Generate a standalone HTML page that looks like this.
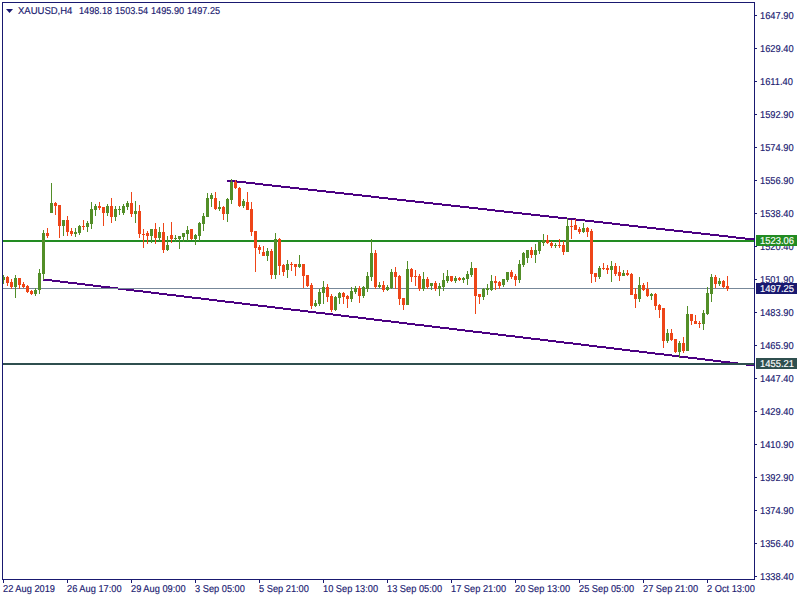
<!DOCTYPE html>
<html><head><meta charset="utf-8"><title>XAUUSD,H4</title>
<style>
html,body{margin:0;padding:0;background:#fff;}
body{width:800px;height:600px;position:relative;overflow:hidden;font-family:"Liberation Sans",sans-serif;font-size:10px;text-rendering:geometricPrecision;-webkit-text-stroke:0.15px;color:#191970;line-height:10px;}
.a{position:absolute;}
.t{position:absolute;white-space:nowrap;height:10px;line-height:10px;transform:scaleX(0.93);transform-origin:0 0;}
.tk{position:absolute;background:#191970;z-index:2;}
.lb{position:absolute;left:756px;width:41px;height:11px;color:#fff;line-height:10px;white-space:nowrap;}
.lb span{position:absolute;left:4px;top:2px;transform:scaleX(0.94);transform-origin:0 0;}
svg{position:absolute;left:0;top:0;}
</style></head><body>
<div class="tk" style="left:2px;top:2px;width:753px;height:1px"></div>
<div class="tk" style="left:2px;top:2px;width:1px;height:578px"></div>
<div class="tk" style="left:754px;top:2px;width:1px;height:578px"></div>
<div class="tk" style="left:2px;top:579px;width:753px;height:1px"></div>
<div class="tk" style="left:755px;top:15px;width:2px;height:1px"></div>
<div class="t" style="left:760px;top:12px">1647.90</div>
<div class="tk" style="left:755px;top:48px;width:2px;height:1px"></div>
<div class="t" style="left:760px;top:45px">1629.40</div>
<div class="tk" style="left:755px;top:81px;width:2px;height:1px"></div>
<div class="t" style="left:760px;top:78px">1611.40</div>
<div class="tk" style="left:755px;top:114px;width:2px;height:1px"></div>
<div class="t" style="left:760px;top:111px">1592.90</div>
<div class="tk" style="left:755px;top:147px;width:2px;height:1px"></div>
<div class="t" style="left:760px;top:144px">1574.90</div>
<div class="tk" style="left:755px;top:180px;width:2px;height:1px"></div>
<div class="t" style="left:760px;top:177px">1556.90</div>
<div class="tk" style="left:755px;top:213px;width:2px;height:1px"></div>
<div class="t" style="left:760px;top:210px">1538.40</div>
<div class="tk" style="left:755px;top:246px;width:2px;height:1px"></div>
<div class="t" style="left:760px;top:243px">1520.40</div>
<div class="tk" style="left:755px;top:279px;width:2px;height:1px"></div>
<div class="t" style="left:760px;top:276px">1501.90</div>
<div class="tk" style="left:755px;top:312px;width:2px;height:1px"></div>
<div class="t" style="left:760px;top:309px">1483.90</div>
<div class="tk" style="left:755px;top:345px;width:2px;height:1px"></div>
<div class="t" style="left:760px;top:342px">1465.90</div>
<div class="tk" style="left:755px;top:378px;width:2px;height:1px"></div>
<div class="t" style="left:760px;top:375px">1447.40</div>
<div class="tk" style="left:755px;top:411px;width:2px;height:1px"></div>
<div class="t" style="left:760px;top:408px">1429.40</div>
<div class="tk" style="left:755px;top:444px;width:2px;height:1px"></div>
<div class="t" style="left:760px;top:441px">1410.90</div>
<div class="tk" style="left:755px;top:477px;width:2px;height:1px"></div>
<div class="t" style="left:760px;top:474px">1392.90</div>
<div class="tk" style="left:755px;top:510px;width:2px;height:1px"></div>
<div class="t" style="left:760px;top:507px">1374.90</div>
<div class="tk" style="left:755px;top:543px;width:2px;height:1px"></div>
<div class="t" style="left:760px;top:540px">1356.40</div>
<div class="tk" style="left:755px;top:576px;width:2px;height:1px"></div>
<div class="t" style="left:760px;top:573px">1338.40</div>
<div class="tk" style="left:3px;top:580px;width:1px;height:3px"></div>
<div class="t" style="left:2.5px;top:585px;transform:scaleX(0.925)">22 Aug 2019</div>
<div class="tk" style="left:67px;top:580px;width:1px;height:3px"></div>
<div class="t" style="left:66.5px;top:585px;transform:scaleX(0.925)">26 Aug 17:00</div>
<div class="tk" style="left:131px;top:580px;width:1px;height:3px"></div>
<div class="t" style="left:130.5px;top:585px;transform:scaleX(0.925)">29 Aug 09:00</div>
<div class="tk" style="left:195px;top:580px;width:1px;height:3px"></div>
<div class="t" style="left:194.5px;top:585px;transform:scaleX(0.925)">3 Sep 05:00</div>
<div class="tk" style="left:259px;top:580px;width:1px;height:3px"></div>
<div class="t" style="left:258.5px;top:585px;transform:scaleX(0.925)">5 Sep 21:00</div>
<div class="tk" style="left:323px;top:580px;width:1px;height:3px"></div>
<div class="t" style="left:322.5px;top:585px;transform:scaleX(0.925)">10 Sep 13:00</div>
<div class="tk" style="left:387px;top:580px;width:1px;height:3px"></div>
<div class="t" style="left:386.5px;top:585px;transform:scaleX(0.925)">13 Sep 05:00</div>
<div class="tk" style="left:451px;top:580px;width:1px;height:3px"></div>
<div class="t" style="left:450.5px;top:585px;transform:scaleX(0.925)">17 Sep 21:00</div>
<div class="tk" style="left:515px;top:580px;width:1px;height:3px"></div>
<div class="t" style="left:514.5px;top:585px;transform:scaleX(0.925)">20 Sep 13:00</div>
<div class="tk" style="left:579px;top:580px;width:1px;height:3px"></div>
<div class="t" style="left:578.5px;top:585px;transform:scaleX(0.925)">25 Sep 05:00</div>
<div class="tk" style="left:643px;top:580px;width:1px;height:3px"></div>
<div class="t" style="left:642.5px;top:585px;transform:scaleX(0.925)">27 Sep 21:00</div>
<div class="tk" style="left:707px;top:580px;width:1px;height:3px"></div>
<div class="t" style="left:706.5px;top:585px;transform:scaleX(0.925)">2 Oct 13:00</div>
<svg width="20" height="20" style="left:0;top:0"><path d="M6 9h7l-3.5 4z" fill="#191970"/></svg>
<div class="t" style="left:18px;top:7px;transform:scaleX(0.95)">XAUUSD,H4</div>
<div class="t" style="left:78.5px;top:7px;transform:scaleX(0.915)">1498.18</div>
<div class="t" style="left:115px;top:7px;transform:scaleX(0.915)">1503.54</div>
<div class="t" style="left:150.5px;top:7px;transform:scaleX(0.915)">1495.90</div>
<div class="t" style="left:186.5px;top:7px;transform:scaleX(0.915)">1497.25</div>
<svg width="800" height="600" viewBox="0 0 800 600" shape-rendering="crispEdges">
<path fill="#4B0082" d="M227 180h10v2h-10zM237 181h9v2h-9zM246 182h9v2h-9zM255 183h8v2h-8zM263 184h9v2h-9zM272 185h9v2h-9zM281 186h9v2h-9zM290 187h9v2h-9zM299 188h9v2h-9zM308 189h9v2h-9zM317 190h9v2h-9zM326 191h9v2h-9zM335 192h9v2h-9zM344 193h9v2h-9zM353 194h9v2h-9zM362 195h9v2h-9zM371 196h8v2h-8zM379 197h9v2h-9zM388 198h9v2h-9zM397 199h9v2h-9zM406 200h9v2h-9zM415 201h9v2h-9zM424 202h9v2h-9zM433 203h9v2h-9zM442 204h9v2h-9zM451 205h9v2h-9zM460 206h9v2h-9zM469 207h9v2h-9zM478 208h9v2h-9zM487 209h8v2h-8zM495 210h9v2h-9zM504 211h9v2h-9zM513 212h9v2h-9zM522 213h9v2h-9zM531 214h9v2h-9zM540 215h9v2h-9zM549 216h9v2h-9zM558 217h9v2h-9zM567 218h9v2h-9zM576 219h9v2h-9zM585 220h9v2h-9zM594 221h9v2h-9zM603 222h9v2h-9zM612 223h8v2h-8zM620 224h9v2h-9zM629 225h9v2h-9zM638 226h9v2h-9zM647 227h9v2h-9zM656 228h9v2h-9zM665 229h9v2h-9zM674 230h9v2h-9zM683 231h9v2h-9zM692 232h9v2h-9zM701 233h9v2h-9zM710 234h9v2h-9zM719 235h9v2h-9zM728 236h8v2h-8zM736 237h9v2h-9zM745 238h9v2h-9zM43 279h9v2h-9zM52 280h8v2h-8zM60 281h8v2h-8zM68 282h9v2h-9zM77 283h8v2h-8zM85 284h8v2h-8zM93 285h8v2h-8zM101 286h9v2h-9zM110 287h8v2h-8zM118 288h8v2h-8zM126 289h8v2h-8zM134 290h9v2h-9zM143 291h8v2h-8zM151 292h8v2h-8zM159 293h8v2h-8zM167 294h9v2h-9zM176 295h8v2h-8zM184 296h8v2h-8zM192 297h9v2h-9zM201 298h8v2h-8zM209 299h8v2h-8zM217 300h8v2h-8zM225 301h9v2h-9zM234 302h8v2h-8zM242 303h8v2h-8zM250 304h8v2h-8zM258 305h9v2h-9zM267 306h8v2h-8zM275 307h8v2h-8zM283 308h8v2h-8zM291 309h9v2h-9zM300 310h8v2h-8zM308 311h8v2h-8zM316 312h9v2h-9zM325 313h8v2h-8zM333 314h8v2h-8zM341 315h8v2h-8zM349 316h9v2h-9zM358 317h8v2h-8zM366 318h8v2h-8zM374 319h8v2h-8zM382 320h9v2h-9zM391 321h8v2h-8zM399 322h8v2h-8zM407 323h8v2h-8zM415 324h9v2h-9zM424 325h8v2h-8zM432 326h8v2h-8zM440 327h9v2h-9zM449 328h8v2h-8zM457 329h8v2h-8zM465 330h8v2h-8zM473 331h9v2h-9zM482 332h8v2h-8zM490 333h8v2h-8zM498 334h8v2h-8zM506 335h9v2h-9zM515 336h8v2h-8zM523 337h8v2h-8zM531 338h9v2h-9zM540 339h8v2h-8zM548 340h8v2h-8zM556 341h8v2h-8zM564 342h9v2h-9zM573 343h8v2h-8zM581 344h8v2h-8zM589 345h8v2h-8zM597 346h9v2h-9zM606 347h8v2h-8zM614 348h8v2h-8zM622 349h8v2h-8zM630 350h9v2h-9zM639 351h8v2h-8zM647 352h8v2h-8zM655 353h9v2h-9zM664 354h8v2h-8zM672 355h8v2h-8zM680 356h8v2h-8zM688 357h9v2h-9zM697 358h8v2h-8zM705 359h8v2h-8zM713 360h8v2h-8zM721 361h9v2h-9zM730 362h8v2h-8zM738 363h8v2h-8zM746 364h8v2h-8z"/>
<rect x="3" y="240" width="751" height="2" fill="#228B22"/>
<rect x="3" y="363" width="751" height="2" fill="#2F4F4F"/>
<rect x="3" y="288" width="751" height="1" fill="#778899"/>
<path fill="#528E28" d="M3 275h1v9h-1zM2 277h3v3h-3zM15 275h1v23h-1zM14 278h3v9h-3zM35 288h1v8h-1zM34 290h3v4h-3zM39 269h1v25h-1zM38 273h3v17h-3zM43 230h1v50h-1zM42 233h3v41h-3zM51 183h1v30h-1zM50 203h3v10h-3zM63 220h1v16h-1zM62 220h3v6h-3zM75 228h1v9h-1zM74 232h3v2h-3zM79 225h1v10h-1zM78 226h3v7h-3zM87 221h1v11h-1zM86 223h3v4h-3zM91 202h1v27h-1zM90 209h3v15h-3zM95 204h1v12h-1zM94 206h3v4h-3zM107 204h1v12h-1zM106 206h3v7h-3zM115 206h1v15h-1zM114 209h3v8h-3zM119 206h1v9h-1zM118 209h3v1h-3zM123 204h1v11h-1zM122 206h3v7h-3zM127 201h1v9h-1zM126 203h3v4h-3zM135 201h1v22h-1zM134 211h3v3h-3zM151 229h1v14h-1zM150 229h3v7h-3zM159 227h1v14h-1zM158 232h3v6h-3zM167 236h1v15h-1zM166 245h3v5h-3zM175 235h1v7h-1zM174 238h3v1h-3zM179 236h1v13h-1zM178 236h3v3h-3zM183 233h1v9h-1zM182 233h3v4h-3zM187 226h1v15h-1zM186 230h3v4h-3zM195 234h1v11h-1zM194 235h3v4h-3zM199 222h1v19h-1zM198 223h3v13h-3zM203 213h1v18h-1zM202 216h3v8h-3zM207 193h1v24h-1zM206 198h3v19h-3zM211 193h1v14h-1zM210 195h3v4h-3zM219 201h1v10h-1zM218 207h3v2h-3zM227 198h1v24h-1zM226 199h3v15h-3zM231 179h1v25h-1zM230 182h3v18h-3zM243 199h1v9h-1zM242 201h3v5h-3zM267 248h1v13h-1zM266 251h3v5h-3zM275 233h1v46h-1zM274 239h3v36h-3zM287 260h1v18h-1zM286 264h3v6h-3zM299 255h1v13h-1zM298 264h3v3h-3zM315 300h1v7h-1zM314 303h3v3h-3zM319 289h1v17h-1zM318 292h3v12h-3zM323 281h1v23h-1zM322 287h3v6h-3zM335 296h1v15h-1zM334 297h3v13h-3zM339 292h1v12h-1zM338 293h3v5h-3zM351 287h1v15h-1zM350 291h3v8h-3zM355 286h1v8h-1zM354 288h3v4h-3zM363 286h1v12h-1zM362 287h3v9h-3zM367 272h1v20h-1zM366 276h3v13h-3zM371 239h1v42h-1zM370 253h3v24h-3zM379 282h1v6h-1zM378 285h3v2h-3zM387 285h1v6h-1zM386 287h3v3h-3zM391 269h1v20h-1zM390 272h3v16h-3zM407 261h1v44h-1zM406 269h3v36h-3zM423 272h1v19h-1zM422 279h3v10h-3zM431 283h1v7h-1zM430 283h3v3h-3zM439 283h1v13h-1zM438 286h3v3h-3zM443 273h1v18h-1zM442 280h3v7h-3zM447 270h1v13h-1zM446 276h3v5h-3zM455 276h1v7h-1zM454 278h3v3h-3zM463 277h1v6h-1zM462 278h3v2h-3zM467 271h1v14h-1zM466 274h3v5h-3zM471 262h1v15h-1zM470 268h3v7h-3zM483 288h1v12h-1zM482 289h3v8h-3zM487 284h1v11h-1zM486 288h3v2h-3zM491 275h1v16h-1zM490 281h3v9h-3zM503 279h1v8h-1zM502 279h3v6h-3zM507 272h1v10h-1zM506 272h3v8h-3zM519 260h1v23h-1zM518 264h3v16h-3zM523 252h1v15h-1zM522 253h3v12h-3zM527 250h1v13h-1zM526 250h3v8h-3zM535 244h1v19h-1zM534 250h3v5h-3zM539 241h1v13h-1zM538 242h3v9h-3zM543 234h1v12h-1zM542 240h3v3h-3zM555 243h1v5h-1zM554 245h3v1h-3zM567 218h1v34h-1zM566 226h3v26h-3zM583 223h1v10h-1zM582 228h3v4h-3zM599 266h1v13h-1zM598 268h3v9h-3zM611 261h1v21h-1zM610 266h3v4h-3zM623 270h1v6h-1zM622 273h3v3h-3zM639 277h1v25h-1zM638 285h3v14h-3zM651 293h1v7h-1zM650 294h3v2h-3zM667 329h1v14h-1zM666 333h3v8h-3zM679 341h1v17h-1zM678 343h3v9h-3zM687 306h1v45h-1zM686 314h3v37h-3zM703 310h1v20h-1zM702 313h3v11h-3zM707 287h1v28h-1zM706 293h3v21h-3zM711 274h1v28h-1zM710 277h3v17h-3zM719 278h1v8h-1zM718 281h3v3h-3z"/>
<path fill="#EE4518" d="M7 276h1v10h-1zM6 277h3v6h-3zM11 279h1v10h-1zM10 282h3v5h-3zM19 278h1v11h-1zM18 278h3v7h-3zM23 282h1v6h-1zM22 284h3v3h-3zM27 285h1v8h-1zM26 286h3v6h-3zM31 290h1v5h-1zM30 291h3v3h-3zM47 228h1v10h-1zM46 233h3v3h-3zM55 202h1v13h-1zM54 203h3v3h-3zM59 205h1v33h-1zM58 205h3v21h-3zM67 216h1v20h-1zM66 220h3v12h-3zM71 228h1v8h-1zM70 231h3v3h-3zM83 220h1v10h-1zM82 226h3v1h-3zM99 202h1v8h-1zM98 206h3v2h-3zM103 207h1v19h-1zM102 207h3v6h-3zM111 198h1v25h-1zM110 206h3v11h-3zM131 192h1v25h-1zM130 203h3v11h-3zM139 205h1v33h-1zM138 211h3v23h-3zM143 229h1v19h-1zM142 234h3v1h-3zM147 231h1v13h-1zM146 233h3v3h-3zM155 223h1v21h-1zM154 229h3v9h-3zM163 223h1v30h-1zM162 232h3v18h-3zM171 222h1v21h-1zM170 235h3v4h-3zM191 229h1v11h-1zM190 229h3v10h-3zM215 192h1v18h-1zM214 198h3v11h-3zM223 206h1v14h-1zM222 207h3v7h-3zM235 180h1v9h-1zM234 182h3v6h-3zM239 187h1v20h-1zM238 188h3v18h-3zM247 192h1v18h-1zM246 202h3v8h-3zM251 202h1v34h-1zM250 209h3v23h-3zM255 231h1v41h-1zM254 231h3v17h-3zM259 245h1v9h-1zM258 247h3v3h-3zM263 246h1v10h-1zM262 252h3v4h-3zM271 249h1v30h-1zM270 251h3v24h-3zM279 238h1v37h-1zM278 239h3v27h-3zM283 264h1v12h-1zM282 265h3v7h-3zM291 262h1v9h-1zM290 264h3v1h-3zM295 264h1v12h-1zM294 264h3v3h-3zM303 264h1v24h-1zM302 264h3v12h-3zM307 275h1v12h-1zM306 275h3v11h-3zM311 283h1v26h-1zM310 285h3v21h-3zM327 284h1v18h-1zM326 287h3v10h-3zM331 294h1v18h-1zM330 296h3v14h-3zM343 292h1v12h-1zM342 293h3v4h-3zM347 295h1v13h-1zM346 296h3v3h-3zM359 286h1v17h-1zM358 288h3v8h-3zM375 250h1v39h-1zM374 253h3v34h-3zM383 281h1v11h-1zM382 285h3v5h-3zM395 267h1v22h-1zM394 272h3v5h-3zM399 275h1v30h-1zM398 276h3v23h-3zM403 298h1v12h-1zM402 298h3v7h-3zM411 268h1v14h-1zM410 269h3v8h-3zM415 270h1v16h-1zM414 276h3v1h-3zM419 274h1v17h-1zM418 276h3v13h-3zM427 277h1v12h-1zM426 279h3v8h-3zM435 281h1v10h-1zM434 283h3v6h-3zM451 276h1v6h-1zM450 276h3v5h-3zM459 277h1v4h-1zM458 278h3v2h-3zM475 268h1v46h-1zM474 268h3v28h-3zM479 294h1v10h-1zM478 294h3v3h-3zM495 276h1v14h-1zM494 281h3v2h-3zM499 281h1v8h-1zM498 282h3v4h-3zM511 270h1v9h-1zM510 272h3v5h-3zM515 274h1v12h-1zM514 276h3v4h-3zM531 247h1v11h-1zM530 250h3v5h-3zM547 235h1v9h-1zM546 240h3v3h-3zM551 241h1v7h-1zM550 243h3v3h-3zM559 239h1v9h-1zM558 245h3v1h-3zM563 241h1v14h-1zM562 245h3v7h-3zM571 220h1v19h-1zM570 226h3v1h-3zM575 219h1v11h-1zM574 225h3v5h-3zM579 227h1v7h-1zM578 229h3v3h-3zM587 227h1v10h-1zM586 228h3v4h-3zM591 229h1v54h-1zM590 231h3v43h-3zM595 273h1v9h-1zM594 273h3v4h-3zM603 263h1v7h-1zM602 268h3v1h-3zM607 265h1v9h-1zM606 268h3v2h-3zM615 263h1v13h-1zM614 266h3v8h-3zM619 266h1v15h-1zM618 272h3v4h-3zM627 270h1v6h-1zM626 273h3v2h-3zM631 273h1v22h-1zM630 274h3v21h-3zM635 288h1v20h-1zM634 294h3v5h-3zM643 283h1v8h-1zM642 285h3v5h-3zM647 282h1v15h-1zM646 289h3v7h-3zM655 293h1v17h-1zM654 294h3v12h-3zM659 304h1v14h-1zM658 305h3v5h-3zM663 308h1v40h-1zM662 308h3v33h-3zM671 329h1v12h-1zM670 333h3v7h-3zM675 339h1v14h-1zM674 339h3v13h-3zM683 337h1v16h-1zM682 343h3v8h-3zM691 314h1v11h-1zM690 314h3v7h-3zM695 315h1v9h-1zM694 321h3v3h-3zM699 321h1v7h-1zM698 323h3v1h-3zM715 275h1v13h-1zM714 277h3v7h-3zM723 280h1v8h-1zM722 281h3v6h-3zM727 276h1v15h-1zM726 286h3v3h-3z"/>
</svg>
<div class="lb" style="top:235px;background:#228B22"><span>1523.06</span></div>
<div class="lb" style="top:283px;background:#191970"><span>1497.25</span></div>
<div class="lb" style="top:358px;background:#2F4F4F"><span>1455.21</span></div>
</body></html>
